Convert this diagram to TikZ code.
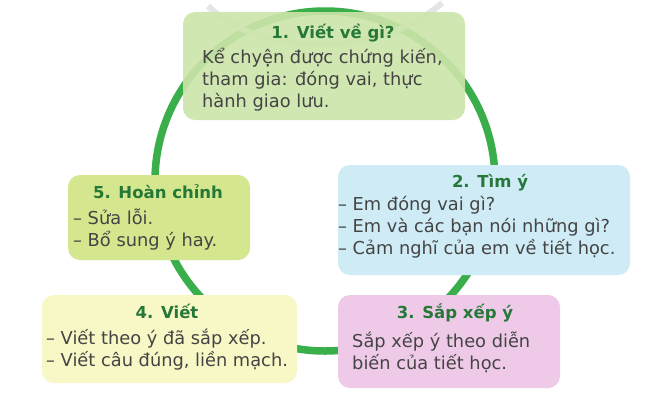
\documentclass[tikz,border=0pt]{standalone}
\usepackage{fontspec}
\setmainfont{DejaVu Sans}
\definecolor{ringgreen}{RGB}{58,174,74}
\definecolor{titlegreen}{RGB}{38,120,56}
\definecolor{bodytext}{RGB}{68,68,68}
\definecolor{fillA}{RGB}{205,229,170}
\definecolor{fillB}{RGB}{207,236,246}
\definecolor{fillC}{RGB}{238,202,232}
\definecolor{fillD}{RGB}{248,247,198}
\definecolor{fillE}{RGB}{213,231,142}
\tikzset{
  stagebox/.style={draw=none, rounded corners=12pt, inner sep=0pt},
  stagetitle/.style={anchor=base, inner sep=0pt, text=titlegreen,
    font=\fontsize{16.5}{22}\bfseries\selectfont},
  stagebody/.style={anchor=north west, inner sep=0pt, align=left, text=bodytext,
    font=\fontsize{17.8}{22}\selectfont},
}
\newcommand{\firststrut}{\rule{0pt}{13pt}}
\begin{document}
\begin{tikzpicture}[x=1pt,y=-1pt]
\useasboundingbox (0,0) rectangle (658,416);
\fill[white] (0,0) rectangle (658,416);
% ring and faint top arc
\draw[ringgreen, line width=7.5pt] (325,181) circle[radius=170];
\draw[gray!20, line width=6pt] (208,6) .. controls (262,58) and (378,58) .. (442,3);
% boxes
\node[stagebox, fill=fillA, fill opacity=0.9, minimum width=282pt, minimum height=108pt] (b1) at (324,66) {};
\node[stagebox, fill=fillB, minimum width=292pt, minimum height=110pt] (b2) at (484,220) {};
\node[stagebox, fill=fillC, minimum width=222pt, minimum height=93pt] (b3) at (449,341.5) {};
\node[stagebox, fill=fillD, minimum width=255pt, minimum height=88pt] (b4) at (169.5,339) {};
\node[stagebox, fill=fillE, minimum width=182pt, minimum height=85pt] (b5) at (159,217.5) {};
% titles
\node[stagetitle] (t1) at (333,38) {1. Viết về gì?};
\node[stagetitle] (t2) at (490,187) {2. Tìm ý};
\node[stagetitle] (t3) at (455,318) {3. Sắp xếp ý};
\node[stagetitle] (t4) at (167,318) {4. Viết};
\node[stagetitle] (t5) at (158,198) {5. Hoàn chỉnh};
% bodies
\node[stagebody] (d1) at (202,48) {\firststrut Kể chyện được chứng kiến,\\ tham gia: đóng vai, thực\\ hành giao lưu.};
\node[stagebody] (d2) at (338,196) {\firststrut – Em đóng vai gì?\\ – Em và các bạn nói những gì?\\ – Cảm nghĩ của em về tiết học.};
\node[stagebody] (d3) at (352,332) {\firststrut Sắp xếp ý theo diễn\\ biến của tiết học.};
\node[stagebody] (d4) at (46,329) {\firststrut – Viết theo ý đã sắp xếp.\\ – Viết câu đúng, liền mạch.};
\node[stagebody] (d5) at (73,209) {\firststrut – Sửa lỗi.\\ – Bổ sung ý hay.};
\end{tikzpicture}
\end{document}
